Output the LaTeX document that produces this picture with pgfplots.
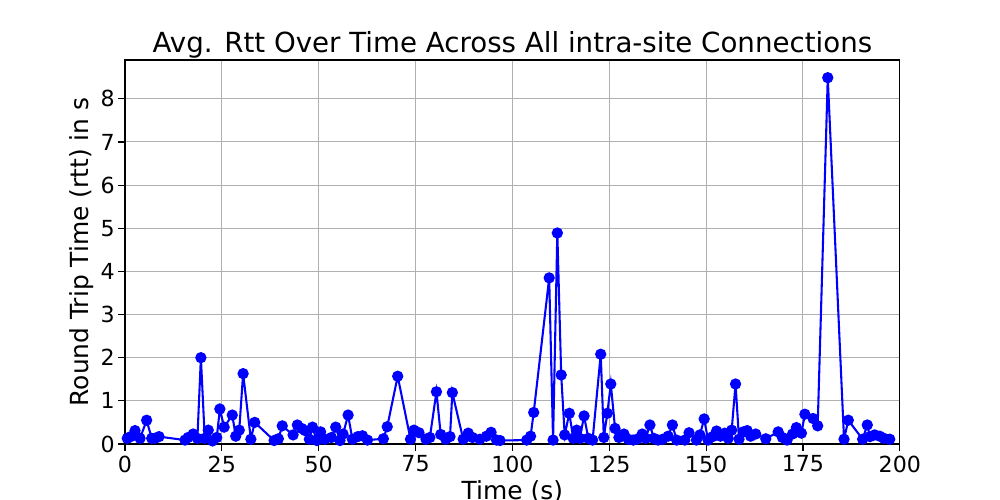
\documentclass[border=0pt]{standalone}
\usepackage{pgfplots}
\pgfplotsset{compat=1.18}
\usepackage{fontspec}
\setmainfont{DejaVu Sans}
\begin{document}
\begin{tikzpicture}
\useasboundingbox (-90.3pt,-40.5pt) rectangle (632.4pt,320.85pt);
\begin{axis}[
  at={(0,0)}, anchor=south west,
  scale only axis, width=560pt, height=277.5pt,
  xmin=0, xmax=200, ymin=0, ymax=8.9,
  xtick={0,25,50,75,100,125,150,175,200},
  ytick={0,1,2,3,4,5,6,7,8},
  grid=major,
  major grid style={draw=black!31, line width=0.75pt},
  axis line style={line width=0.8pt},
  tick style={black, line width=0.8pt},
  tick align=outside,
  major tick length=4.9pt,
  xtick pos=bottom, ytick pos=left,
  /pgf/number format/assume math mode=true,
  ticklabel style={font=\fontsize{16}{18}\selectfont},
  yticklabel style={xshift=1pt},
  title={Avg. Rtt Over Time Across All intra-site Connections},
  title style={font=\fontsize{20}{24}\selectfont, yshift=-8pt},
  xlabel={Time (s)},
  ylabel={Round Trip Time (rtt) in s},
  label style={font=\fontsize{18}{21}\selectfont},
  ylabel style={yshift=-2pt},
  xlabel style={yshift=1pt},
]
\addplot[blue, line width=1.5pt, mark=*, mark size=3.3pt, mark options={fill=blue, draw=blue}] coordinates {
(0.6,0.13)(1.5,0.17)(2.6,0.31)(3.9,0.13)(5.6,0.55)(6.9,0.13)(7.7,0.13)(8.8,0.17)
(15.5,0.09)(16.3,0.15)(17.6,0.23)(18.7,0.13)(19.6,2.0)(20.6,0.13)(21.5,0.32)(22.6,0.07)
(23.7,0.15)(24.5,0.81)(25.6,0.39)(27.7,0.67)(28.6,0.18)(29.5,0.32)(30.5,1.63)(32.5,0.11)
(33.5,0.50)(38.5,0.08)(39.6,0.12)(40.6,0.42)(43.4,0.21)(44.5,0.44)(45.6,0.36)(46.5,0.31)
(47.6,0.11)(48.4,0.39)(49.5,0.08)(50.5,0.28)(51.6,0.11)(53.3,0.15)(54.4,0.39)(55.5,0.08)
(56.3,0.23)(57.6,0.67)(58.7,0.11)(60.1,0.17)(61.3,0.19)(62.6,0.09)(66.7,0.12)(67.7,0.40)
(70.4,1.57)(73.7,0.11)(74.6,0.32)(75.9,0.26)(77.7,0.11)(78.7,0.15)(80.4,1.21)(81.5,0.22)
(82.8,0.11)(83.9,0.17)(84.5,1.19)(87.3,0.11)(88.6,0.25)(89.7,0.15)(91.6,0.11)(93.3,0.18)
(94.5,0.27)(95.9,0.09)(96.8,0.08)(103.7,0.09)(104.7,0.18)(105.5,0.73)(109.5,3.85)(110.5,0.09)
(111.6,4.89)(112.6,1.60)(113.5,0.21)(114.7,0.71)(115.7,0.13)(116.6,0.32)(117.4,0.13)(118.5,0.65)
(119.6,0.13)(120.7,0.09)(122.8,2.08)(123.6,0.15)(124.5,0.71)(125.4,1.39)(126.5,0.36)(127.5,0.15)
(128.8,0.23)(129.9,0.11)(131.2,0.09)(132.2,0.11)(133.5,0.23)(134.4,0.13)(135.5,0.44)(136.5,0.13)
(137.6,0.09)(138.8,0.11)(140.2,0.18)(141.3,0.44)(142.4,0.09)(144.5,0.09)(145.6,0.26)(147.5,0.09)
(148.4,0.21)(149.5,0.58)(150.5,0.09)(151.7,0.17)(152.7,0.30)(153.7,0.18)(154.8,0.25)(155.7,0.13)
(156.6,0.32)(157.6,1.39)(158.5,0.11)(159.6,0.28)(160.6,0.31)(161.5,0.18)(162.8,0.23)(165.4,0.12)
(168.6,0.28)(169.7,0.15)(170.9,0.09)(172.3,0.23)(173.3,0.38)(174.6,0.25)(175.5,0.69)(177.6,0.59)
(178.8,0.42)(181.4,8.49)(185.6,0.11)(186.7,0.55)(190.4,0.11)(191.6,0.44)(192.3,0.17)(193.5,0.21)
(194.8,0.18)(195.9,0.13)(197.4,0.11)
};
\end{axis}
\end{tikzpicture}
\end{document}
